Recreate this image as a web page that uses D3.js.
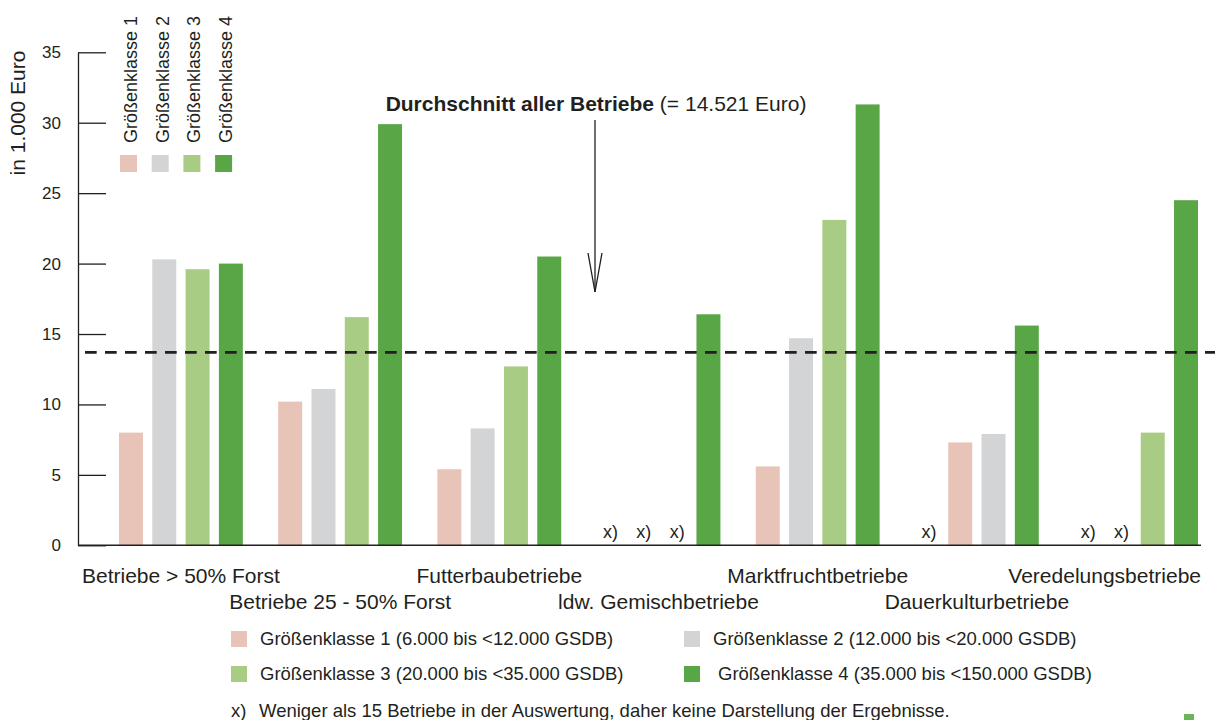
<!DOCTYPE html>
<html>

<head>
    <meta charset="UTF-8">
    <script src="https://d3js.org/d3.v7.min.js"></script>
    <style>
        body {
            margin: 0;
            background-color: #ffffff;
        }

        text {
            font-family: 'Liberation Sans', Arial, sans-serif;
            fill: #231f20;
        }
    </style>
</head>

<body>
    <svg id="chart" width="1215" height="720"></svg>
    <script>
        // data (in 1.000 Euro), null = "x)"
        var groups = ["Betriebe > 50% Forst", "Betriebe 25 - 50% Forst", "Futterbaubetriebe",
            "ldw. Gemischbetriebe", "Marktfruchtbetriebe", "Dauerkulturbetriebe", "Veredelungsbetriebe"];
        var klasse1 = [8.0, 10.2, 5.4, null, 5.6, 7.3, null];
        var klasse2 = [20.3, 11.1, 8.3, null, 14.7, 7.9, null];
        var klasse3 = [19.6, 16.2, 12.7, null, 23.1, null, 8.0];
        var klasse4 = [20.0, 29.9, 20.5, 16.4, 31.3, 15.6, 24.5];

        var klassenNames = ["Größenklasse 1", "Größenklasse 2", "Größenklasse 3", "Größenklasse 4"];
        var legendLabels = ["Größenklasse 1 (6.000 bis <12.000 GSDB)", "Größenklasse 2 (12.000 bis <20.000 GSDB)",
            "Größenklasse 3 (20.000 bis <35.000 GSDB)", "Größenklasse 4 (35.000 bis <150.000 GSDB)"];
        var colors = ["#e8c3b8", "#d3d4d6", "#a9cc84", "#58a646"];
        var yTicks = [0, 5, 10, 15, 20, 25, 30, 35];
        var avgLineValue = 13.7;

        var series = [klasse1, klasse2, klasse3, klasse4];

        var svg = d3.select("#chart");

        var y = d3.scaleLinear().domain([0, 35]).range([545.3, 52.3]);

        var x = d3.scaleBand()
            .domain(groups)
            .range([119, 1198])
            .paddingInner(0.222)
            .paddingOuter(0);

        var xSlot = d3.scaleBand()
            .domain([0, 1, 2, 3])
            .range([0, x.bandwidth()])
            .paddingInner(0.28)
            .paddingOuter(0);

        // missing classes ("x)") come first in each group, bars after
        var cells = [];
        groups.forEach(function (g, gi) {
            var missing = [];
            var present = [];
            series.forEach(function (s, k) {
                if (s[gi] === null) {
                    missing.push(k);
                } else {
                    present.push(k);
                }
            });
            missing.concat(present).forEach(function (k, slot) {
                cells.push({ group: g, index: gi, klasse: k, slot: slot, value: series[k][gi] });
            });
        });

        // y axis
        var yAxis = d3.axisLeft(y)
            .tickValues(yTicks)
            .tickSizeInner(-28)
            .tickSizeOuter(0)
            .tickPadding(17);

        var axisG = svg.append("g")
            .attr("transform", "translate(78,0)")
            .call(yAxis);

        axisG.select(".domain").attr("stroke", "#231f20").attr("stroke-width", 1.3);
        axisG.selectAll(".tick line").attr("stroke", "#231f20").attr("stroke-width", 1.3);
        axisG.selectAll(".tick text")
            .style("font-size", "17px")
            .attr("fill", "#231f20");

        svg.append("text")
            .attr("transform", "translate(25,113) rotate(-90)")
            .attr("text-anchor", "middle")
            .style("font-size", "21px")
            .text("in 1.000 Euro");

        // bars
        svg.append("g")
            .selectAll("rect")
            .data(cells.filter(function (d) { return d.value !== null; }))
            .enter()
            .append("rect")
            .attr("x", function (d) { return x(d.group) + xSlot(d.slot); })
            .attr("y", function (d) { return y(d.value); })
            .attr("width", xSlot.bandwidth())
            .attr("height", function (d) { return y(0) - y(d.value); })
            .attr("fill", function (d) { return colors[d.klasse]; });

        // x) markers
        svg.append("g")
            .selectAll("text")
            .data(cells.filter(function (d) { return d.value === null; }))
            .enter()
            .append("text")
            .attr("x", function (d) { return x(d.group) + xSlot(d.slot) + xSlot.bandwidth() / 2 + 2; })
            .attr("y", y(0) - 7)
            .attr("text-anchor", "middle")
            .style("font-size", "18px")
            .text("x)");

        // baseline
        svg.append("line")
            .attr("x1", 78)
            .attr("x2", 1201)
            .attr("y1", y(0))
            .attr("y2", y(0))
            .attr("stroke", "#231f20")
            .attr("stroke-width", 1.5);

        // average line
        svg.append("line")
            .attr("x1", 85)
            .attr("x2", 1215)
            .attr("y1", y(avgLineValue))
            .attr("y2", y(avgLineValue))
            .attr("stroke", "#231f20")
            .attr("stroke-width", 2.7)
            .attr("stroke-dasharray", "11.7 8.3");

        // category labels, two rows
        svg.append("g")
            .selectAll("text")
            .data(groups)
            .enter()
            .append("text")
            .attr("y", function (d, i) { return i % 2 === 0 ? 583 : 609; })
            .attr("text-anchor", "middle")
            .style("font-size", "21px")
            .text(function (d) { return d; })
            .attr("x", function (d) {
                var w = this.getComputedTextLength();
                var c = x(d) + x.bandwidth() / 2;
                return Math.max(69 + w / 2, Math.min(c, 1201 - w / 2));
            });

        // annotation with arrow
        var note = svg.append("text")
            .attr("x", 596)
            .attr("y", 111)
            .attr("text-anchor", "middle")
            .style("font-size", "21px");
        note.append("tspan").style("font-weight", "bold").text("Durchschnitt aller Betriebe");
        note.append("tspan").text(" (= 14.521 Euro)");

        svg.append("path")
            .attr("d", d3.line()([[595, 120], [595, 292]]))
            .attr("stroke", "#231f20")
            .attr("stroke-width", 1.3)
            .attr("fill", "none");
        svg.append("path")
            .attr("d", d3.line()([[588, 253], [595, 292], [602, 253]]))
            .attr("stroke", "#231f20")
            .attr("stroke-width", 1.3)
            .attr("fill", "none");

        // top legend (rotated labels)
        var topLegend = svg.append("g")
            .selectAll("g")
            .data(klassenNames)
            .enter()
            .append("g")
            .attr("transform", function (d, i) { return "translate(" + (120 + i * 31.7) + ",0)"; });

        topLegend.append("rect")
            .attr("x", 0)
            .attr("y", 155)
            .attr("width", 17)
            .attr("height", 17)
            .attr("fill", function (d, i) { return colors[i]; });

        topLegend.append("text")
            .attr("transform", "translate(17,143) rotate(-90)")
            .style("font-size", "18px")
            .text(function (d) { return d; });

        // bottom legend
        var legend = svg.append("g")
            .selectAll("g")
            .data(legendLabels)
            .enter()
            .append("g")
            .attr("transform", function (d, i) {
                return "translate(" + (i % 2 === 0 ? 231 : 684) + "," + (i < 2 ? 631 : 666) + ")";
            });

        legend.append("rect")
            .attr("width", 16)
            .attr("height", 16)
            .attr("fill", function (d, i) { return colors[i]; });

        legend.append("text")
            .attr("x", function (d, i) { return i === 3 ? 34 : 29; })
            .attr("y", 14)
            .style("font-size", "18.5px")
            .text(function (d) { return d; });

        // footnote
        svg.append("text")
            .attr("x", 231)
            .attr("y", 717)
            .style("font-size", "18.5px")
            .text("x)");
        svg.append("text")
            .attr("x", 259)
            .attr("y", 717)
            .style("font-size", "18.5px")
            .text("Weniger als 15 Betriebe in der Auswertung, daher keine Darstellung der Ergebnisse.");

        // small clipped mark in the corner
        svg.append("rect")
            .attr("x", 1184)
            .attr("y", 714)
            .attr("width", 10)
            .attr("height", 6)
            .attr("fill", "#6cb556");
    </script>
</body>

</html>
